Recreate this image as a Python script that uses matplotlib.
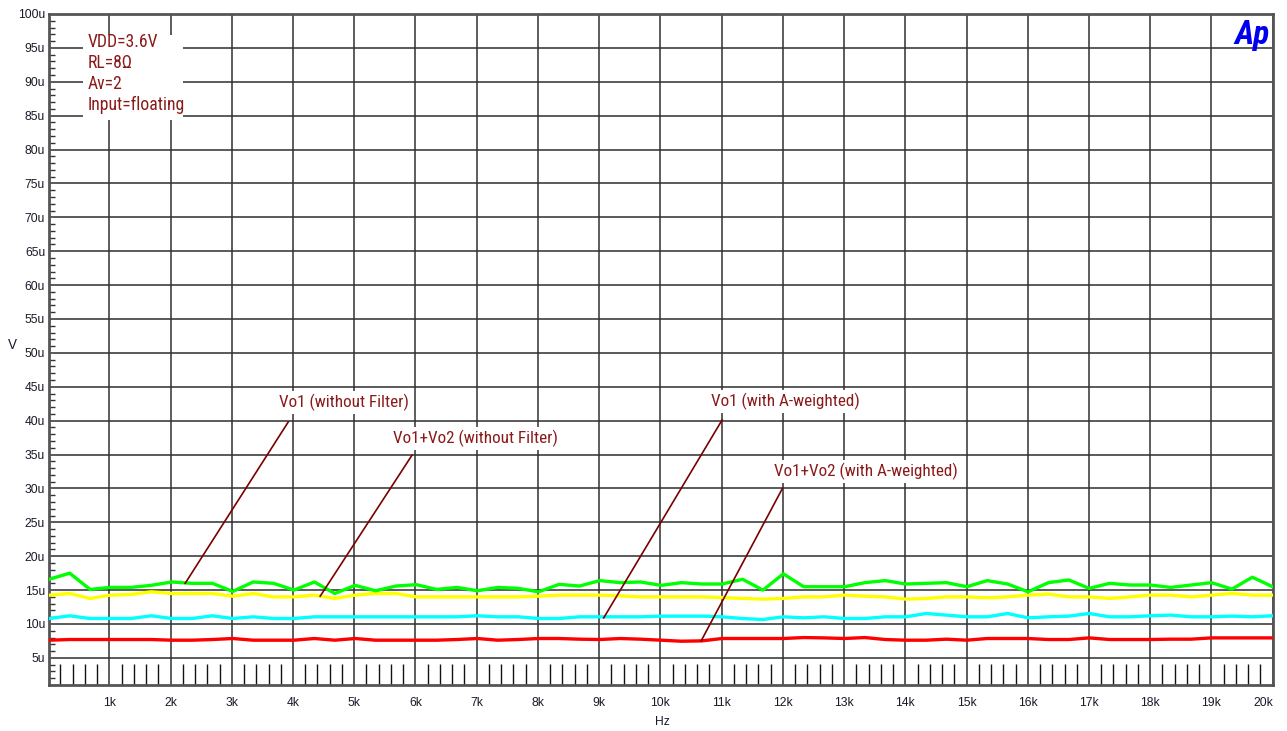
import numpy as np
import matplotlib
matplotlib.use("Agg")
import matplotlib.pyplot as plt
from matplotlib import font_manager as fm
from matplotlib.patches import Rectangle
from matplotlib.ticker import MultipleLocator, FixedLocator

names = {f.name for f in fm.fontManager.ttflist}
NARROW = "Liberation Sans"
for cand in ["Liberation Sans Narrow", "Arial Narrow", "Roboto Condensed", "PT Sans Narrow",
             "Archivo Narrow", "Nimbus Sans Narrow"]:
    if cand in names:
        NARROW = cand
        break
REG = "Liberation Sans"

# ---------------- data (u = microvolts) ----------------
freq_hz = np.linspace(20, 20000, 61)

vo1_no_filter = [16.6, 17.5, 15.1, 15.4, 15.4, 15.7, 16.2, 16.0, 16.0, 14.8, 16.2, 16.0, 15.0, 16.2, 14.5,
                 15.7, 14.9, 15.6, 15.8, 15.1, 15.4, 14.9, 15.4, 15.25, 14.75, 15.85, 15.6, 16.4, 16.1, 16.2,
                 15.7, 16.1, 15.9, 15.9, 16.6, 15.0, 17.4, 15.5, 15.5, 15.5, 16.1, 16.4, 15.9, 16.0, 16.1,
                 15.5, 16.4, 15.9, 14.75, 16.1, 16.5, 15.25, 16.0, 15.75, 15.75, 15.4, 15.75, 16.1, 15.15, 16.9, 15.5]

vo12_no_filter = [14.26, 14.5, 13.77, 14.26, 14.36, 14.75, 14.5, 14.5, 14.5, 14.1, 14.5, 14.0, 14.0, 14.26, 13.77,
                  14.26, 14.5, 14.5, 14.0, 14.0, 14.0, 14.0, 14.0, 14.0, 14.1, 14.26, 14.26, 14.26, 14.16, 14.0,
                  14.0, 14.0, 14.0, 13.9, 13.77, 13.67, 13.77, 14.0, 14.0, 14.26, 14.1, 14.0, 13.67, 13.77, 14.0,
                  14.0, 13.87, 14.0, 14.26, 14.41, 14.0, 14.0, 13.77, 14.0, 14.26, 14.26, 14.0, 14.26, 14.51, 14.26, 14.26]

vo1_a_weighted = [10.81, 11.21, 10.81, 10.81, 10.81, 11.21, 10.81, 10.81, 11.21, 10.81, 11.06, 10.81, 10.81, 11.06, 11.06,
                  11.06, 11.06, 11.06, 11.06, 11.06, 11.06, 11.21, 11.06, 11.06, 10.81, 10.81, 11.06, 11.06, 11.06, 11.06,
                  11.16, 11.16, 11.16, 11.06, 10.81, 10.66, 11.06, 10.91, 11.06, 10.81, 10.81, 11.06, 11.06, 11.55, 11.31,
                  11.06, 11.06, 11.55, 10.91, 11.06, 11.16, 11.55, 11.06, 11.06, 11.21, 11.31, 11.06, 11.06, 11.16, 11.06, 11.21]

vo12_a_weighted = [7.61, 7.71, 7.71, 7.71, 7.71, 7.71, 7.61, 7.61, 7.71, 7.86, 7.61, 7.61, 7.61, 7.86, 7.61,
                   7.86, 7.61, 7.61, 7.61, 7.61, 7.71, 7.86, 7.61, 7.71, 7.86, 7.86, 7.76, 7.71, 7.86, 7.76,
                   7.61, 7.46, 7.51, 7.86, 7.86, 7.86, 7.86, 8.0, 7.95, 7.86, 8.0, 7.71, 7.61, 7.61, 7.76,
                   7.61, 7.86, 7.86, 7.86, 7.71, 7.71, 7.95, 7.71, 7.71, 7.71, 7.76, 7.76, 7.95, 7.95, 7.95, 7.95]

x_tick_vals = [1000 * k for k in range(1, 21)]
x_tick_labels = [f"{k}k" for k in range(1, 21)]
y_tick_vals = list(range(5, 101, 5))
y_tick_labels = [f"{v}u" for v in y_tick_vals]

info_lines = ["VDD=3.6V", "RL=8Ω", "Av=2", "Input=floating"]

# annotation: label, text pos (Hz,u), line start (Hz,u), line end (Hz,u)
annotations = [
    ("Vo1 (without Filter)", (4828, 42.7), (3922, 39.8), (2239, 16.0)),
    ("Vo1+Vo2 (without Filter)", (6972, 37.4), (5943, 34.9), (4444, 14.1)),
    ("Vo1 (with A-weighted)", (12042, 42.8), (11008, 40.1), (9074, 10.9)),
    ("Vo1+Vo2 (with A-weighted)", (13350, 32.5), (11993, 30.0), (10665, 7.5)),
]

# ---------------- figure ----------------
W, H = 1287, 731
fig = plt.figure(figsize=(W / 100, H / 100), dpi=100)
renderer = fig.canvas.get_renderer()


def fit_size(text, family, target_px, base=13.0, **kw):
    t = fig.text(0, 0, text, fontsize=base, family=family, **kw)
    w = t.get_window_extent(renderer=renderer).width
    t.remove()
    return base * target_px / w


ANN_FS = 0.5 * (fit_size("Vo1 (without Filter)", NARROW, 127) + fit_size("Vo1+Vo2 (with A-weighted)", NARROW, 187))
INFO_FS = 0.5 * (fit_size("Input=floating", NARROW, 89) + fit_size("VDD=3.6V", NARROW, 76))
TICK_FS = fit_size("100u", REG, 27)
AP_FS = fit_size("Ap", NARROW, 35, weight="bold", style="italic")

AX_L, AX_R, AX_T, AX_B = 49.3, 1272.7, 14.0, 685.0
ax = fig.add_axes([AX_L / W, 1 - AX_B / H, (AX_R - AX_L) / W, (AX_B - AX_T) / H])
ax.set_xlim(20, 20000)
ax.set_ylim(1, 100)

TXT = "#8B1A1A"
LBL = "#1a1a28"

# grid
for v in y_tick_vals:
    ax.axhline(v, color="#5a5a5a", lw=1.4, zorder=1)
for v in x_tick_vals:
    ax.axvline(v, color="#303030", lw=1.1, zorder=1)

for sp in ax.spines.values():
    sp.set_color("#555555")
    sp.set_linewidth(2.0)

lw = 2.4
ax.plot(freq_hz, vo12_a_weighted, color="#ff0000", lw=lw, zorder=3)
ax.plot(freq_hz, vo1_a_weighted, color="#00ffff", lw=lw, zorder=3)
ax.plot(freq_hz, vo12_no_filter, color="#ffff00", lw=lw, zorder=3)
ax.plot(freq_hz, vo1_no_filter, color="#00ff00", lw=lw, zorder=4)

# ticks
ax.xaxis.set_major_locator(FixedLocator(x_tick_vals))
ax.set_xticklabels(x_tick_labels, fontsize=TICK_FS, family=REG, color=LBL)
ax.yaxis.set_major_locator(FixedLocator(y_tick_vals))
ax.set_yticklabels(y_tick_labels, fontsize=TICK_FS, family=REG, color=LBL)
ax.tick_params(axis="both", which="major", length=0)
ax.tick_params(axis="x", which="major", pad=9)
ax.tick_params(axis="y", which="major", pad=3)
ax.xaxis.set_minor_locator(MultipleLocator(200))
ax.yaxis.set_minor_locator(MultipleLocator(1))
ax.tick_params(axis="x", which="minor", direction="in", length=15, width=1.0, color="#111111")
ax.tick_params(axis="y", which="minor", direction="in", length=4, width=1.0, color="#333333")
labs = ax.get_xticklabels()
labs[-1].set_horizontalalignment("right")

ax.set_xlabel("Hz", fontsize=TICK_FS, family=REG, color=LBL, va="center")
ax.xaxis.set_label_coords(0.501, -(722 - AX_B) / (AX_B - AX_T))
ax.set_ylabel("V", fontsize=TICK_FS + 1, family=REG, color=LBL, rotation=0, va="center")
ax.yaxis.set_label_coords(-0.03, 0.507)


def px2data(px, py):
    fx = (px - AX_L) / (AX_R - AX_L)
    fy = (AX_B - py) / (AX_B - AX_T)
    return ax.transData.inverted().transform(ax.transAxes.transform((fx, fy)))


# info box (white background) and its lines
x0, y0 = px2data(83, 120)
x1, y1 = px2data(183, 35)
ax.add_patch(Rectangle((x0, y0), x1 - x0, y1 - y0, facecolor="white", edgecolor="none", zorder=5))
for k, line in enumerate(info_lines):
    lx, ly = px2data(88, 42 + 21 * k)
    ax.text(lx, ly, line, fontsize=INFO_FS, family=NARROW, color=TXT,
            va="center", ha="left", zorder=6)

# annotations
for label, tpos, p0, p1 in annotations:
    ax.plot([p0[0], p1[0]], [p0[1], p1[1]], color="#7a0000", lw=1.2, zorder=6)
    ax.text(tpos[0], tpos[1], label, fontsize=ANN_FS, family=NARROW, color=TXT,
            ha="center", va="center",
            bbox=dict(facecolor="white", edgecolor="none", pad=2), zorder=5)

# Ap logo
fig.text(1270 / W, 1 - 44 / H, "Ap", fontsize=AP_FS, family=NARROW, weight="bold",
         style="italic", color="#0000ee", ha="right", va="baseline")

fig.savefig("out.png", dpi=100)
